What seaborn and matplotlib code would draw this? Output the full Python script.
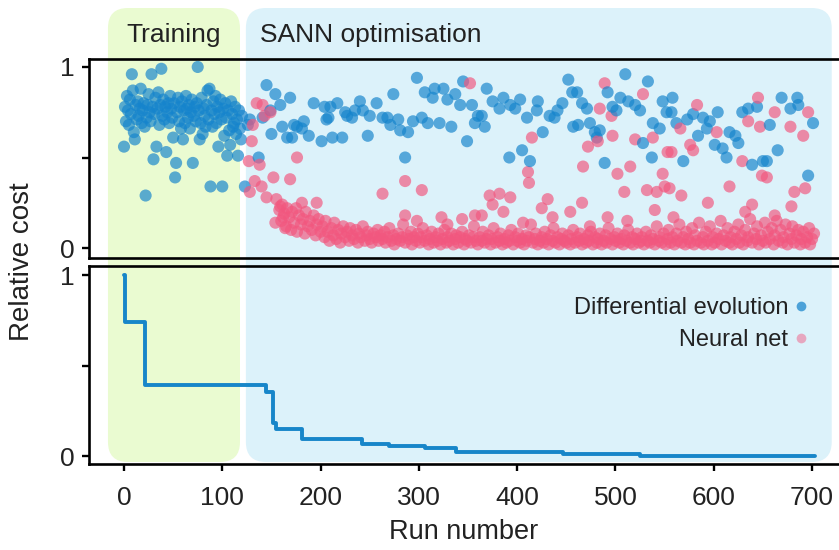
import numpy as np
import pandas as pd
import matplotlib
matplotlib.use("Agg")
import matplotlib.pyplot as plt
from matplotlib.patches import FancyBboxPatch
from matplotlib.lines import Line2D
import seaborn as sns

# ---- data -------------------------------------------------------------
# Differential evolution runs in the training phase
train_run = list(range(0, 121))
train_cost = [0.56, 0.78, 0.70, 0.84, 0.76, 0.68, 0.82, 0.74, 0.96, 0.87,
              0.64, 0.60, 0.79, 0.71, 0.81, 0.73, 0.77, 0.88, 0.69, 0.76,
              0.80, 0.67, 0.29, 0.72, 0.79, 0.85, 0.75, 0.70, 0.96, 0.78,
              0.49, 0.74, 0.83, 0.56, 0.77, 0.86, 0.68, 0.79, 0.99, 0.73,
              0.82, 0.71, 0.78, 0.53, 0.75, 0.80, 0.69, 0.84, 0.77, 0.72,
              0.61, 0.80, 0.39, 0.47, 0.75, 0.83, 0.70, 0.78, 0.66, 0.81,
              0.60, 0.76, 0.69, 0.84, 0.77, 0.72, 0.79, 0.66, 0.75, 0.82,
              0.47, 0.73, 0.78, 0.70, 0.80, 1.00, 0.76, 0.60, 0.69, 0.83,
              0.63, 0.77, 0.73, 0.67, 0.79, 0.87, 0.71, 0.88, 0.34, 0.76,
              0.67, 0.81, 0.74, 0.84, 0.69, 0.78, 0.56, 0.75, 0.82, 0.71,
              0.34, 0.77, 0.62, 0.80, 0.72, 0.51, 0.76, 0.65, 0.57, 0.81,
              0.74, 0.67, 0.69, 0.78, 0.63, 0.71, 0.51, 0.76, 0.66, 0.60,
              0.73]

# Differential evolution runs during SANN optimisation
de_run = [123, 126, 128, 137, 141, 145, 149, 150, 154, 159, 161, 166, 169,
          171, 173, 176, 181, 183, 188, 193, 201, 204, 206, 208, 210, 212,
          217, 222, 225, 227, 232, 235, 240, 243, 248, 250, 257, 263, 268,
          271, 274, 279, 281, 286, 289, 294, 298, 303, 306, 309, 314, 316,
          321, 325, 329, 333, 337, 342, 345, 349, 354, 357, 360, 364, 367,
          369, 375, 382, 386, 392, 393, 398, 403, 405, 410, 413, 420, 421,
          426, 433, 438, 441, 446, 452, 456, 457, 461, 462, 466, 471, 474,
          479, 481, 484, 489, 492, 497, 501, 505, 510, 513, 520, 525, 528,
          533, 537, 538, 545, 548, 552, 557, 558, 562, 569, 573, 579, 584,
          589, 593, 596, 601, 604, 609, 613, 616, 622, 625, 629, 635, 639,
          644, 650, 654, 657, 665, 669, 678, 685, 686, 696, 701]
de_cost = [0.34, 0.68, 0.71, 0.50, 0.72, 0.90, 0.76, 0.63, 0.85, 0.79, 0.67,
           0.61, 0.83, 0.61, 0.68, 0.67, 0.66, 0.70, 0.62, 0.80, 0.59, 0.78,
           0.71, 0.72, 0.78, 0.61, 0.80, 0.61, 0.75, 0.73, 0.72, 0.76, 0.81,
           0.76, 0.62, 0.73, 0.80, 0.72, 0.72, 0.68, 0.85, 0.71, 0.65, 0.50,
           0.64, 0.70, 0.94, 0.72, 0.86, 0.69, 0.83, 0.88, 0.69, 0.88, 0.82,
           0.67, 0.85, 0.79, 0.92, 0.59, 0.79, 0.69, 0.73, 0.73, 0.67, 0.88,
           0.81, 0.77, 0.83, 0.50, 0.79, 0.77, 0.82, 0.54, 0.72, 0.48, 0.76,
           0.81, 0.64, 0.73, 0.72, 0.76, 0.80, 0.93, 0.86, 0.67, 0.86, 0.68,
           0.80, 0.77, 0.69, 0.64, 0.61, 0.65, 0.47, 0.86, 0.78, 0.76, 0.83,
           0.96, 0.81, 0.79, 0.76, 0.58, 0.92, 0.50, 0.69, 0.66, 0.81, 0.75,
           0.75, 0.83, 0.69, 0.48, 0.71, 0.74, 0.62, 0.72, 0.66, 0.70, 0.57,
           0.75, 0.55, 0.50, 0.64, 0.62, 0.58, 0.75, 0.77, 0.46, 0.78, 0.48,
           0.48, 0.68, 0.54, 0.83, 0.77, 0.83, 0.79, 0.40, 0.69]

# Neural net suggestions during SANN optimisation
nn_run = [127, 128, 130, 131, 133, 135, 138, 140, 141, 143, 145, 149, 152,
          154, 155, 158, 159, 160, 161, 162, 163, 164, 165, 166, 168, 169,
          170, 171, 173, 175, 176, 176, 178, 180, 181, 182, 184, 185, 187,
          189, 191, 193, 195, 196, 196, 198, 200,
          202, 204, 205, 207, 209, 211, 213, 214, 216, 218, 220, 221, 223,
          225, 227, 229, 230, 232, 234, 236, 238, 239, 241, 243, 245, 247,
          248, 250, 252, 254, 256, 258, 259,
          261, 263, 263, 265, 266, 268, 270, 272, 274, 275, 277, 279, 281,
          283, 284, 286, 286, 286, 288, 290, 292, 293, 295, 297, 298, 299,
          301, 302, 303, 304, 306, 308, 310, 311, 313, 315, 317, 319, 320,
          322, 323, 324, 326, 328, 329, 329, 331, 333, 335, 337, 338, 340,
          342, 344, 344, 346, 347, 349, 351, 352, 353, 355, 356, 357, 358,
          360, 362, 364, 364, 365, 367, 369, 371, 372, 373, 374, 375, 376,
          378, 380, 382, 382, 383, 385, 386, 387, 389, 391, 392, 393, 394,
          396, 398, 400, 401, 403, 405, 406, 407, 409, 410, 411, 412, 412,
          414, 415, 416, 418, 419, 421, 423, 425, 425, 427, 428, 430, 431,
          432, 434, 436, 436, 437, 439, 441, 443, 445, 446, 448, 450, 452,
          454, 454, 455, 457, 459,
          461, 463, 464, 466, 466, 467, 468, 470, 472, 472, 473, 474, 475,
          477, 479, 481, 482, 482, 484, 484, 486, 488, 489, 490, 491, 492,
          493, 495, 496, 497, 497, 499, 500, 502, 502, 504, 506, 508, 509,
          509, 511, 512, 513, 515, 515, 517, 518, 520, 520, 522, 524, 526,
          527, 528, 529, 531, 532, 533, 535, 536, 538, 538, 540, 540, 542,
          542, 544, 545, 547, 548, 549, 550, 551, 553, 553, 554, 555, 556,
          557, 558, 559,
          560, 562, 563, 565, 566, 567, 567, 569, 571, 572, 574, 576, 576,
          578, 579, 580, 581, 583, 583, 585, 587, 589, 590, 592, 594, 594,
          596, 598, 599, 601, 603, 603, 605, 607, 608, 610, 612, 614, 616,
          616, 617, 619, 621, 623, 625, 626, 628, 629, 630, 632, 632, 634,
          635, 635, 637, 639, 639, 641, 643, 644, 645, 646, 647, 648, 649,
          650, 652, 653, 654, 655, 657, 659, 661, 662, 662, 662, 664, 666,
          668, 670, 671, 673, 675, 677, 678, 679, 679, 680, 682, 682, 684,
          686, 688, 689, 691, 691, 693, 693, 695, 696, 697, 698, 700, 702]
nn_cost = [0.48, 0.31, 0.59, 0.68, 0.37, 0.80, 0.46, 0.34, 0.79, 0.73, 0.28,
           0.75, 0.39, 0.14, 0.27, 0.21, 0.23, 0.15, 0.24, 0.17, 0.19, 0.11,
           0.12, 0.22, 0.17, 0.38, 0.10, 0.20, 0.14, 0.22, 0.09, 0.50, 0.18,
           0.13, 0.25, 0.16, 0.08, 0.20, 0.12, 0.15, 0.10, 0.18, 0.07, 0.13,
           0.25, 0.16, 0.09,
           0.12, 0.06, 0.15, 0.09, 0.04, 0.11, 0.07, 0.14, 0.05, 0.10, 0.03,
           0.08, 0.12, 0.06, 0.09, 0.04, 0.11, 0.07, 0.05, 0.10, 0.03, 0.08,
           0.06, 0.12, 0.04, 0.07, 0.09, 0.05, 0.03, 0.08, 0.06, 0.10, 0.04,
           0.07, 0.05, 0.30, 0.09, 0.03, 0.06, 0.11, 0.04, 0.07, 0.02, 0.05,
           0.08, 0.04, 0.06, 0.13, 0.03, 0.37, 0.18, 0.07, 0.05, 0.09, 0.02,
           0.06, 0.04, 0.15, 0.08, 0.03, 0.06, 0.32, 0.11, 0.04, 0.07, 0.02,
           0.05, 0.09, 0.03, 0.06, 0.04, 0.08, 0.02, 0.17, 0.05, 0.10, 0.03,
           0.06, 0.13, 0.04, 0.08, 0.02, 0.05, 0.07, 0.03, 0.06, 0.09, 0.16,
           0.02, 0.05, 0.04, 0.07, 0.91, 0.03, 0.06, 0.12, 0.18, 0.04,
           0.02, 0.06, 0.04, 0.18, 0.09, 0.03, 0.05, 0.07, 0.29, 0.02, 0.05,
           0.24, 0.11, 0.03, 0.06, 0.04, 0.30, 0.08, 0.02, 0.20, 0.05, 0.03,
           0.07, 0.04, 0.28, 0.10, 0.02, 0.06, 0.04, 0.08, 0.03, 0.05, 0.14,
           0.02, 0.07, 0.04, 0.42, 0.06, 0.36, 0.13, 0.61, 0.03, 0.05, 0.08,
           0.02, 0.04, 0.06, 0.22, 0.03, 0.09, 0.05, 0.27, 0.02, 0.07, 0.04,
           0.17, 0.11, 0.03, 0.06, 0.02, 0.05, 0.08, 0.04, 0.03, 0.07, 0.02,
           0.20, 0.05, 0.10, 0.03,
           0.06, 0.04, 0.08, 0.02, 0.25, 0.45, 0.05, 0.03, 0.07, 0.56, 0.04,
           0.12, 0.09, 0.02, 0.06, 0.03, 0.05, 0.59, 0.08, 0.77, 0.02, 0.04,
           0.91, 0.07, 0.03, 0.17, 0.11, 0.05, 0.73, 0.02, 0.62, 0.06, 0.04,
           0.08, 0.41, 0.03, 0.05, 0.02, 0.07, 0.31, 0.04, 0.15, 0.10, 0.03,
           0.45, 0.06, 0.02, 0.05, 0.60, 0.08, 0.03, 0.04, 0.06, 0.85, 0.02,
           0.09, 0.32, 0.04, 0.03, 0.07, 0.05, 0.61, 0.02, 0.21, 0.12, 0.31,
           0.04, 0.06, 0.03, 0.41, 0.08, 0.34, 0.02, 0.05, 0.53, 0.10, 0.33,
           0.03, 0.53, 0.06, 0.17,
           0.02, 0.08, 0.04, 0.13, 0.66, 0.03, 0.29, 0.06, 0.02, 0.09, 0.05,
           0.03, 0.57, 0.11, 0.54, 0.02, 0.07, 0.04, 0.79, 0.14, 0.03, 0.06,
           0.02, 0.09, 0.04, 0.25, 0.12, 0.02, 0.06, 0.03, 0.08, 0.64, 0.05,
           0.15, 0.02, 0.07, 0.04, 0.11, 0.03, 0.34, 0.06, 0.02, 0.09, 0.05,
           0.13, 0.03, 0.07, 0.48, 0.02, 0.10, 0.20, 0.04, 0.06, 0.70, 0.16,
           0.03, 0.24, 0.08, 0.05, 0.12, 0.83, 0.02, 0.67, 0.07, 0.40, 0.04,
           0.14, 0.03, 0.39, 0.09, 0.05, 0.11, 0.02, 0.07, 0.75, 0.18, 0.15,
           0.04, 0.10, 0.03, 0.06, 0.13, 0.02, 0.08, 0.67, 0.05, 0.23, 0.12,
           0.03, 0.31, 0.07, 0.10, 0.02, 0.05, 0.09, 0.62, 0.03, 0.33, 0.06,
           0.75, 0.11, 0.02, 0.05, 0.08]

# Best cost found so far
best_run = [0, 1, 21, 144, 152, 155, 181, 242, 270, 306, 338, 447, 525, 703]
best_cost = [1.0, 0.74, 0.39, 0.355, 0.18, 0.147, 0.092, 0.065, 0.055,
             0.042, 0.02, 0.01, 0.0, 0.0]

x_ticks = [0, 100, 200, 300, 400, 500, 600, 700]
phase_names = ["Training", "SANN optimisation"]
method_names = ["Differential evolution", "Neural net"]

# ---- styling ----------------------------------------------------------
sns.set_theme(style="ticks")
plt.rcParams["font.family"] = ["Liberation Sans", "DejaVu Sans"]
text_color = "#222222"
blue = "#1584cc"
pink = "#f2577f"
line_blue = "#1786c9"
green_bg = "#eafbd1"
blue_bg = "#dcf2fa"

W, H = 839, 550
fig = plt.figure(figsize=(W / 100, H / 100), dpi=100)
fig.patch.set_facecolor("white")

def px_rect(left, top, right, bottom):
    return [left / W, 1 - bottom / H, (right - left) / W, (bottom - top) / H]

ax1 = fig.add_axes(px_rect(89, 59, 839, 258))
ax2 = fig.add_axes(px_rect(89, 266, 839, 464))
xlim = (-35.6, 727.4)

points = pd.concat([
    pd.DataFrame({"run": train_run, "cost": train_cost,
                  "method": method_names[0]}),
    pd.DataFrame({"run": de_run, "cost": de_cost, "method": method_names[0]}),
    pd.DataFrame({"run": nn_run, "cost": nn_cost, "method": method_names[1]}),
], ignore_index=True).sort_values("run", kind="stable")

sns.scatterplot(data=points, x="run", y="cost", hue="method",
                palette={method_names[0]: blue, method_names[1]: pink},
                s=76, alpha=0.68, linewidth=0, legend=False, ax=ax1,
                zorder=3)

best = pd.DataFrame({"run": best_run, "cost": best_cost})
sns.lineplot(data=best, x="run", y="cost", ax=ax2, color=line_blue,
             linewidth=2.8, drawstyle="steps-post", zorder=3)

for ax, ylim in ((ax1, (-0.055, 1.044)), (ax2, (-0.044, 1.05))):
    ax.set_facecolor("none")
    ax.set_xlim(*xlim)
    ax.set_ylim(*ylim)
    ax.set_xlabel("")
    ax.set_ylabel("")
    ax.set_yticks([0, 0.5, 1])
    ax.set_yticklabels(["0", "", "1"])
    ax.spines["right"].set_visible(False)
    for side in ("left", "top", "bottom"):
        ax.spines[side].set_visible(True)
        ax.spines[side].set_linewidth(1.9)
        ax.spines[side].set_color("black")
    ax.tick_params(axis="both", direction="out", length=5, width=1.7,
                   color="black", labelsize=19, labelcolor=text_color,
                   pad=5)

ax1.set_xticks([])
ax2.set_xticks(x_ticks)
ax2.set_xticklabels([str(t) for t in x_ticks])
ax2.tick_params(axis="x", pad=11)
ax2.set_xlabel("Run number", fontsize=19.5, color=text_color, labelpad=6)

fig.text(22 / W, 1 - 262 / H, "Relative cost", rotation=90, ha="center",
         va="center", fontsize=20, color=text_color)

# Shaded phases behind both panels
def phase_box(x0, x1, color):
    to_px = ax2.transData
    p0 = to_px.transform((x0, 0))[0] / fig.dpi
    p1 = to_px.transform((x1, 0))[0] / fig.dpi
    y0 = (H - 462) / 100
    y1 = (H - 8) / 100
    r = 0.2
    box = FancyBboxPatch((p0 + r, y0 + r), (p1 - p0) - 2 * r,
                         (y1 - y0) - 2 * r, boxstyle=f"round,pad={r}",
                         transform=fig.dpi_scale_trans, facecolor=color,
                         edgecolor="none", zorder=-5)
    fig.add_artist(box)
    return p0, p1

g0, g1 = phase_box(-16.3, 118, green_bg)
b0, b1 = phase_box(124, 720, blue_bg)

fig.text((g0 + g1) / 2 * 100 / W, 1 - 35 / H, phase_names[0], ha="center",
         va="center", fontsize=19, color=text_color)
fig.text(260 / W, 1 - 35 / H, phase_names[1], ha="left", va="center",
         fontsize=19, color=text_color)

handles = [
    Line2D([], [], linestyle="none", marker="o", markersize=7,
           markerfacecolor=blue, markeredgewidth=0, alpha=0.72),
    Line2D([], [], linestyle="none", marker="o", markersize=7,
           markerfacecolor=pink, markeredgewidth=0, alpha=0.48),
]
leg = ax2.legend(handles, method_names, loc="upper right",
                 bbox_to_anchor=(0.978, 0.915), markerfirst=False,
                 frameon=False, fontsize=17, handlelength=0.6,
                 handletextpad=0.25, labelspacing=0.42, borderaxespad=0.2)
for t in leg.get_texts():
    t.set_color(text_color)

fig.savefig("out.png", dpi=100, facecolor="white")
